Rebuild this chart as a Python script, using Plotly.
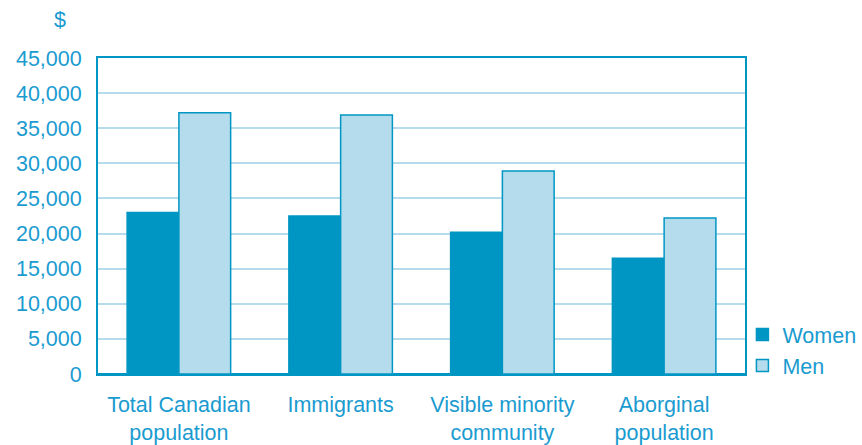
import plotly.graph_objects as go

categories = ["Total Canadian<br>population", "Immigrants", "Visible minority<br>community", "Aborginal<br>population"]
women = [23000, 22500, 20200, 16500]
men = [37200, 36900, 28900, 22200]
tick_vals = [0, 5000, 10000, 15000, 20000, 25000, 30000, 35000, 40000, 45000]
tick_text = ["0", "5,000", "10,000", "15,000", "20,000", "25,000", "30,000", "35,000", "40,000", "45,000"]

DARK = "#0096c4"
LIGHT = "#b4dcec"
TEXT = "#1a9bd0"
FS = 21.5

fig = go.Figure()
fig.add_trace(go.Bar(name="Women", x=categories, y=women, marker=dict(color=DARK, line=dict(color=DARK, width=1.5))))
fig.add_trace(go.Bar(name="Men", x=categories, y=men, marker=dict(color=LIGHT, line=dict(color=DARK, width=1.5))))

fig.update_layout(
    width=862, height=445,
    margin=dict(l=98, r=117, t=58, b=71, autoexpand=False),
    paper_bgcolor="white", plot_bgcolor="white",
    font=dict(family="Liberation Sans, Arial, sans-serif", size=FS, color=TEXT),
    barmode="group", bargap=0.36, bargroupgap=0,
    showlegend=True,
    legend=dict(x=0.996, y=0.19, xanchor="left", yanchor="top", font=dict(size=FS, color=TEXT),
                tracegroupgap=0, itemwidth=30, bgcolor="rgba(0,0,0,0)"),
    xaxis=dict(showline=True, linecolor=DARK, linewidth=2, mirror=True, ticks="", showgrid=False,
               ticklabelstandoff=10),
    yaxis=dict(range=[0, 45000], tickvals=tick_vals, ticktext=tick_text, showgrid=True,
               gridcolor=LIGHT, gridwidth=2, showline=True, linecolor=DARK, linewidth=2, mirror=True,
               ticks="", ticklabelstandoff=10, zeroline=True, zerolinecolor=DARK, zerolinewidth=3),
)
fig.layout.annotations = [dict(text="$", x=-0.058, y=1.12, xref="paper", yref="paper", xanchor="center",
                               yanchor="middle", showarrow=False, font=dict(size=FS, color=TEXT))]

fig.write_html("out.html")
